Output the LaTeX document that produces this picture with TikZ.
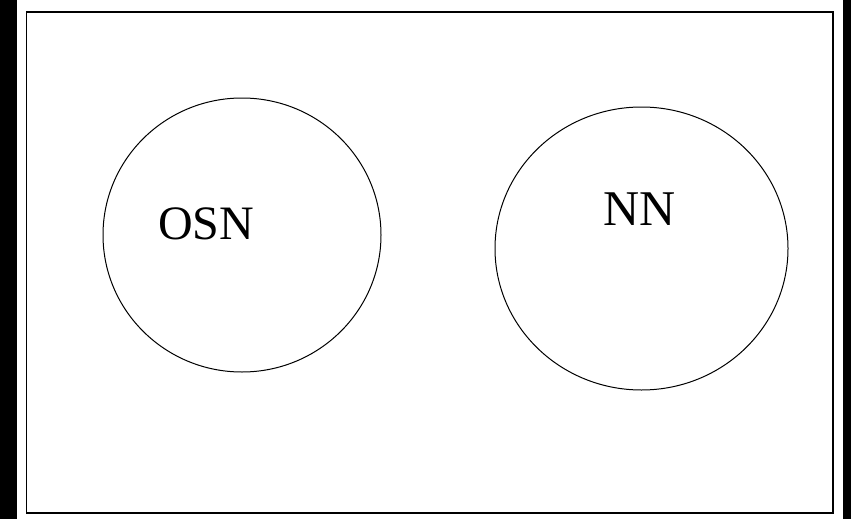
\documentclass[tikz,border=0pt]{standalone}
\usepackage{fontspec}
\setmainfont{Liberation Serif}
\begin{document}
\begin{tikzpicture}[x=1pt,y=-1pt,
  lbl/.style={anchor=base west,inner sep=0pt,font=\fontsize{48}{52}\selectfont},
  circ/.style={draw=black,line width=1pt}]
\useasboundingbox (0,0) rectangle (851,519);
\fill[white] (0,0) rectangle (851,519);
\fill[black] (0,0) rectangle (17,519);
\fill[black] (843,0) rectangle (851,519);
\draw[line width=1.2pt] (26.5,12) rectangle (833,513);
\draw[circ] (242,235) ellipse [x radius=139,y radius=137];
\draw[circ] (641.5,248.5) ellipse [x radius=146.5,y radius=141.5];
\node[lbl] (osn) at (158,239) {OSN};
\node[lbl,font=\fontsize{50}{54}\selectfont] (nn) at (603,225) {NN};
\end{tikzpicture}
\end{document}
